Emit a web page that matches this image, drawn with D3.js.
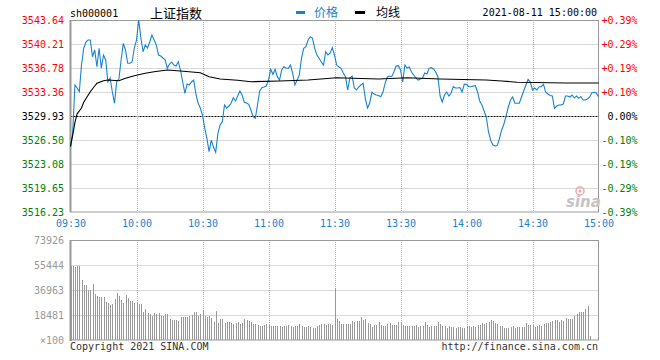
<!DOCTYPE html>
<html><head><meta charset="utf-8">
<script src="https://cdn.jsdelivr.net/npm/d3@7"></script>
<style>
html,body{margin:0;padding:0;background:#fff;}
svg{display:block;}
</style></head>
<body>
<svg id="chart" width="660" height="360"></svg>
<script>
// ---------- data ----------
const symbol = "sh000001";
const title = "上证指数";
const legendPrice = "价格";
const legendAvg = "均线";
const dateText = "2021-08-11 15:00:00";
const copyrightText = "Copyright 2021 SINA.COM";
const urlText = "http://finance.sina.com.cn";

const priceTicks = [3516.23, 3519.65, 3523.08, 3526.50, 3529.93, 3533.36, 3536.78, 3540.21, 3543.64];
const pctLabels = ["-0.39%", "-0.29%", "-0.19%", "-0.10%", "0.00%", "+0.10%", "+0.19%", "+0.29%", "+0.39%"];
const preClose = 3529.93;

const timeTicks = [0, 30, 60, 90, 120, 150, 180, 210, 240];
const timeLabels = ["09:30", "10:00", "10:30", "11:00", "11:30", "13:30", "14:00", "14:30", "15:00"];

const volTicks = [0, 18481, 36963, 55444, 73926];
const volUnitLabel = "×100";

// price per minute (0 = 09:30 ... 240 = 15:00)
const prices = [
3525.55,3527.50,3534.36,3533.93,3533.40,3537.21,3539.60,3540.50,3540.78,3540.78,
3538.40,3539.36,3536.97,3539.60,3536.78,3538.64,3537.93,3534.83,3535.36,3533.40,
3531.75,3534.83,3535.20,3537.93,3540.31,3539.36,3537.46,3537.46,3537.64,3539.64,
3540.78,3543.64,3541.07,3539.11,3540.07,3539.64,3540.50,3541.50,3540.78,3540.07,
3538.64,3538.50,3538.22,3538.00,3536.74,3537.36,3537.64,3537.21,3537.07,3537.69,
3536.50,3534.79,3533.17,3534.50,3534.36,3534.79,3535.07,3533.07,3531.79,3531.07,
3530.07,3528.22,3526.75,3524.84,3526.50,3525.50,3524.75,3527.46,3528.65,3529.12,
3531.51,3531.07,3531.36,3531.75,3532.55,3532.08,3532.79,3533.50,3532.93,3531.89,
3531.79,3531.60,3530.79,3529.83,3529.61,3531.51,3533.50,3533.98,3534.07,3534.22,
3535.07,3536.60,3535.89,3536.60,3535.55,3535.07,3536.50,3536.97,3536.78,3536.74,
3537.21,3536.03,3534.36,3535.07,3535.79,3538.17,3539.60,3539.83,3540.78,3541.26,
3541.03,3539.60,3538.64,3538.17,3537.64,3537.21,3539.11,3538.64,3538.89,3539.69,
3538.64,3537.21,3536.93,3536.74,3536.07,3535.55,3533.65,3535.36,3535.64,3533.93,
3533.65,3534.07,3534.36,3534.60,3532.46,3531.07,3531.79,3533.32,3533.07,3532.93,
3532.86,3532.69,3533.32,3534.60,3535.50,3535.64,3535.55,3536.22,3537.07,3537.12,
3536.50,3534.79,3537.21,3536.78,3536.93,3536.22,3535.79,3535.36,3535.07,3535.22,
3535.32,3536.07,3535.93,3536.74,3536.83,3536.64,3536.22,3535.55,3532.79,3531.93,
3532.93,3533.36,3532.79,3533.22,3534.12,3533.93,3533.93,3534.00,3533.36,3534.50,
3534.46,3534.12,3534.12,3534.22,3534.26,3533.40,3532.08,3531.51,3530.65,3529.79,
3527.65,3526.44,3525.80,3525.65,3525.72,3526.75,3527.94,3528.79,3529.93,3531.22,
3532.22,3532.65,3531.75,3531.75,3531.75,3532.65,3533.50,3534.36,3535.17,3534.79,
3533.65,3533.93,3533.65,3534.12,3534.12,3534.46,3533.32,3533.07,3532.86,3532.79,
3531.03,3531.36,3531.51,3531.51,3531.65,3532.79,3532.79,3532.65,3532.93,3532.50,
3532.79,3532.46,3532.72,3532.22,3532.22,3532.36,3532.65,3533.26,3533.32,3533.22,
3532.69
];

// average line, read at selected minutes
const avgMinutes = [0,1,2,3,5,6,9,11,12,15,17,22,25,29,34,38,44,50,59,63,68,76,82,95,108,121,140,153,168,189,196,203,225,240];
const avgValues = [3525.60,3527.20,3529.00,3530.25,3531.07,3531.89,3533.40,3534.22,3534.60,3534.97,3535.07,3534.97,3535.32,3535.69,3536.03,3536.26,3536.50,3536.36,3536.12,3535.55,3535.22,3535.03,3534.83,3534.93,3535.07,3535.40,3535.22,3535.40,3535.22,3535.07,3534.93,3534.76,3534.65,3534.65];

// volume per minute (x100)
const volumes = [
54930,
54930,54190,54700,54700,44360,40660,40660,36960,36960,41150,
33760,32780,32030,32030,32030,28340,27600,25870,26370,30310,
34500,32530,29570,27110,33270,31300,28830,28830,27110,27110,
26370,26370,20450,22920,19710,18970,17740,19710,18970,19710,
17990,17990,18970,18970,15520,14790,14790,14790,14050,17250,
16760,16760,16760,17990,18480,20950,20950,17990,18970,22180,
17990,17250,17990,16510,13550,21440,12320,15520,15520,12320,
13550,13060,12320,11580,12320,13550,11580,12320,15520,14790,
14050,13060,11580,11580,11090,10350,10600,11090,11580,11090,
10350,10350,10600,10600,10350,9860,10350,10350,11090,10350,
9860,10350,10350,11580,10350,9860,9860,10350,9860,9120,
8620,10600,11090,11580,11830,11090,11580,11580,
11090,
38220,15520,14050,11580,11580,11580,11580,11580,14050,13550,
14050,14050,17000,14790,15520,12320,11580,9860,11090,11090,
13060,11090,10600,10600,11830,12320,11090,11090,11090,13060,
13060,11090,10600,10600,10600,10600,10600,11090,9860,10350,
10600,13060,11090,9860,10600,10600,10600,13060,11580,10600,
10600,9120,10600,9860,9860,8620,9860,9860,9120,9120,
10350,10350,9860,10350,9860,11090,11090,12320,11580,12320,
13550,14790,14050,12320,11580,10600,10350,9120,9120,9120,
9860,10350,9120,9860,9860,9860,9860,12320,11090,11090,
11090,9860,10600,11090,10600,11580,12320,12320,13550,14290,
14790,14790,13550,14790,14050,16020,15520,15520,15520,17990,
18970,20450,20450,20450,22920,25380,2960,
0,0,0,0
];

// ---------- drawing ----------
const svg = d3.select("#chart");
svg.append("rect").attr("width",660).attr("height",360).attr("fill","#fff");

const mono = "'DejaVu Sans Mono', 'Liberation Mono', monospace";
const cjk = "'Noto Sans CJK SC', sans-serif";
const blue = "#1883cf";
const red = "#ff0000";
const green = "#008000";
const gridColor = "#b3b3b3";
const frameColor = "#999";

const L = 70.5, R = 598.5;
const x = d3.scaleLinear().domain([0, 240]).range([L, R]);
const yP = d3.scaleLinear().domain([priceTicks[0], priceTicks[priceTicks.length-1]]).range([212, 20]);
const yV = d3.scaleLinear().domain([0, volTicks[volTicks.length-1]]).range([340, 240]);

function colorFor(v){ return Math.abs(v-preClose) < 0.005 ? "#000" : (v > preClose ? red : green); }

// --- price panel grid ---
const gP = svg.append("g");
gP.selectAll("line.h").data(priceTicks.slice(1,-1)).join("line")
  .attr("x1", L).attr("x2", R)
  .attr("y1", d => Math.round(yP(d))+0.5).attr("y2", d => Math.round(yP(d))+0.5)
  .attr("stroke", d => Math.abs(d-preClose)<0.005 ? "#000" : gridColor)
  .attr("stroke-dasharray", d => Math.abs(d-preClose)<0.005 ? "2,1" : "1,1")
  .attr("stroke-width", 1);
gP.selectAll("line.v").data(timeTicks.slice(1,-1)).join("line")
  .attr("x1", d => Math.round(x(d))+0.5).attr("x2", d => Math.round(x(d))+0.5)
  .attr("y1", 20).attr("y2", 212)
  .attr("stroke", gridColor).attr("stroke-dasharray","1,1");

// --- volume panel grid ---
const gV = svg.append("g");
gV.selectAll("line.h").data(volTicks.slice(1,-1)).join("line")
  .attr("x1", L).attr("x2", R)
  .attr("y1", d => Math.round(yV(d))+0.5).attr("y2", d => Math.round(yV(d))+0.5)
  .attr("stroke", gridColor).attr("stroke-dasharray","1,1");
gV.selectAll("line.v").data(timeTicks.slice(1,-1)).join("line")
  .attr("x1", d => Math.round(x(d))+0.5).attr("x2", d => Math.round(x(d))+0.5)
  .attr("y1", 240).attr("y2", 340)
  .attr("stroke", gridColor).attr("stroke-dasharray","1,1");

// --- volume bars ---
svg.append("g").selectAll("line").data(volumes).join("line")
  .attr("x1", (d,i) => Math.round(x(i))+0.5).attr("x2", (d,i) => Math.round(x(i))+0.5)
  .attr("y1", yV(0)).attr("y2", d => yV(d))
  .attr("stroke", "#999").attr("stroke-width", 1)
  .attr("shape-rendering","crispEdges");

// --- frames ---
svg.append("rect").attr("x", L).attr("y", 20.5).attr("width", R-L).attr("height", 191.5)
  .attr("fill","none").attr("stroke", frameColor).attr("stroke-width",1);
svg.append("rect").attr("x", L).attr("y", 240.5).attr("width", R-L).attr("height", 99.5)
  .attr("fill","none").attr("stroke", frameColor).attr("stroke-width",1);
svg.append("line").attr("x1",70.5).attr("x2",70.5).attr("y1",20).attr("y2",212).attr("stroke",frameColor).attr("stroke-width",2);
svg.append("line").attr("x1",70.5).attr("x2",70.5).attr("y1",240).attr("y2",341).attr("stroke",frameColor).attr("stroke-width",2);

// --- sina watermark ---
const wm = svg.append("g");
wm.append("circle").attr("cx",580).attr("cy",191).attr("r",4).attr("fill","none").attr("stroke","#f2a6a6").attr("stroke-width",1.5);
wm.append("circle").attr("cx",580).attr("cy",191).attr("r",1.5).attr("fill","#f2a6a6");
wm.append("text").attr("x",566).attr("y",207).text("sina")
  .attr("font-family","'DejaVu Sans', sans-serif").attr("font-style","italic").attr("font-weight","bold")
  .attr("font-size",15).attr("fill","#c4c4c4");

// --- lines ---
const priceLine = d3.line().x((d,i) => x(i)).y(d => yP(d));
svg.append("path").datum(prices).attr("d", priceLine)
  .attr("fill","none").attr("stroke", blue).attr("stroke-width",1.1);
const avgLine = d3.line().x(d => x(d[0])).y(d => yP(d[1]));
svg.append("path").datum(avgMinutes.map((m,i)=>[m, avgValues[i]])).attr("d", avgLine)
  .attr("fill","none").attr("stroke", "#000").attr("stroke-width",1.1);

// --- left price axis ---
const axL = svg.append("g").attr("transform","translate(70,0)")
  .call(d3.axisLeft(yP).tickValues(priceTicks).tickSize(0).tickPadding(6).tickFormat(d => d.toFixed(2)));
axL.select(".domain").remove();
axL.selectAll("text").attr("font-family", mono).attr("font-size", 10).attr("fill", d => colorFor(d));

// --- right pct axis ---
const axR = svg.append("g").attr("transform","translate(599,0)")
  .call(d3.axisRight(yP).tickValues(priceTicks).tickSize(0).tickFormat((d,i) => pctLabels[i]));
axR.select(".domain").remove();
axR.selectAll("text").attr("font-family", mono).attr("font-size", 10)
  .attr("text-anchor","end").attr("x", 38.5).attr("fill", d => colorFor(d));

// --- time axis ---
const axB = svg.append("g").attr("transform","translate(0,212)")
  .call(d3.axisBottom(x).tickValues(timeTicks).tickSize(0).tickPadding(8).tickFormat((d,i) => timeLabels[i]));
axB.select(".domain").remove();
axB.selectAll("text").attr("font-family", mono).attr("font-size", 10).attr("fill", blue);

// --- volume axis ---
const axV = svg.append("g").attr("transform","translate(70,0)")
  .call(d3.axisLeft(yV).tickValues(volTicks).tickSize(0).tickPadding(6).tickFormat(d => d === 0 ? volUnitLabel : String(d)));
axV.select(".domain").remove();
axV.selectAll("text").attr("font-family", mono).attr("font-size", 10).attr("fill", "#999");

// --- header ---
svg.append("text").attr("x",70).attr("y",17).text(symbol)
  .attr("font-family", mono).attr("font-size",10).attr("fill","#000");
svg.append("text").attr("x",150).attr("y",18).text(title)
  .attr("font-family", cjk).attr("font-size",13).attr("fill","#000");
svg.append("rect").attr("x",296).attr("y",11).attr("width",9).attr("height",3).attr("fill",blue);
svg.append("text").attr("x",314).attr("y",17).text(legendPrice)
  .attr("font-family", cjk).attr("font-size",12).attr("fill",blue);
svg.append("rect").attr("x",355).attr("y",11).attr("width",10).attr("height",3).attr("fill","#000");
svg.append("text").attr("x",376).attr("y",17).text(legendAvg)
  .attr("font-family", cjk).attr("font-size",12).attr("fill","#000");
svg.append("text").attr("x",597).attr("y",16).attr("text-anchor","end").text(dateText)
  .attr("font-family", mono).attr("font-size",10).attr("fill","#000");

// --- footer ---
svg.append("text").attr("x",70).attr("y",350).text(copyrightText)
  .attr("font-family", mono).attr("font-size",10).attr("fill","#333");
svg.append("text").attr("x",598).attr("y",350).attr("text-anchor","end").text(urlText)
  .attr("font-family", mono).attr("font-size",10).attr("fill","#333");
</script>
</body></html>
